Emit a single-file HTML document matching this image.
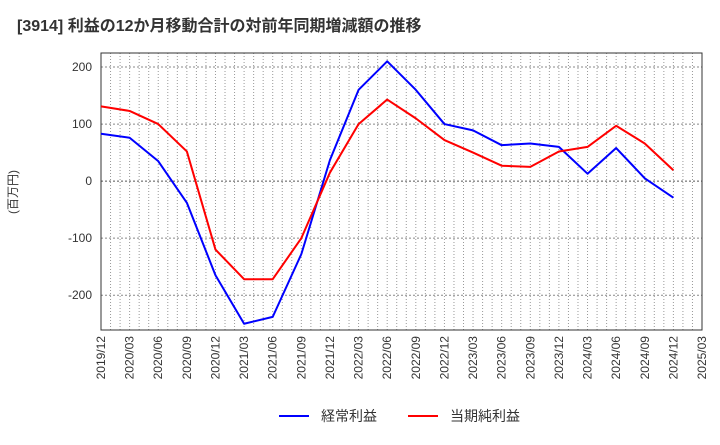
<!DOCTYPE html>
<html><head><meta charset="utf-8"><style>
body{margin:0;background:#fff;font-family:"Liberation Sans","Noto Sans CJK JP",sans-serif;}
svg text{font-family:"Liberation Sans","Noto Sans CJK JP",sans-serif;}
</style></head><body>
<svg id="chart" width="720" height="440" xmlns="http://www.w3.org/2000/svg">
<text x="17" y="31" font-size="16" font-weight="bold" fill="#333">[3914]  利益の12か月移動合計の対前年同期増減額の推移</text>
<text transform="translate(17,192) rotate(-90)" text-anchor="middle" font-size="12" fill="#333">(百万円)</text>
<g id="grid"></g>
<g id="axes"></g>
<g id="series"></g>
<g>
<line x1="279" y1="416" x2="309" y2="416" stroke="#0000ff" stroke-width="2"/>
<text x="321" y="421" font-size="14" fill="#333">経常利益</text>
<line x1="408" y1="416" x2="438" y2="416" stroke="#ff0000" stroke-width="2"/>
<text x="450" y="421" font-size="14" fill="#333">当期純利益</text>
</g>
</svg>
<script>
const categories=["2019/12","2020/03","2020/06","2020/09","2020/12","2021/03","2021/06","2021/09","2021/12","2022/03","2022/06","2022/09","2022/12","2023/03","2023/06","2023/09","2023/12","2024/03","2024/06","2024/09","2024/12","2025/03"];
const ordinaryProfit=[83,76,35,-38,-165,-250,-238,-128,37,160,210,160,100,89,63,66,60,13,58,5,-29];
const netProfit=[131,123,100,52,-120,-172,-172,-100,15,100,143,110,72,50,27,25,52,60,97,66,19];
const yTicks=[200,100,0,-100,-200];
const L=101,R=702,T=53,B=330,yMax=224.6,yMin=-261;
const NS="http://www.w3.org/2000/svg";
const xs=i=>L+(R-L)*i/(categories.length-1);
const ys=v=>T+(yMax-v)/(yMax-yMin)*(B-T);
function mk(tag,attrs,parent){const e=document.createElementNS(NS,tag);for(const k in attrs)e.setAttribute(k,attrs[k]);parent.appendChild(e);return e;}
const grid=document.getElementById('grid'),axes=document.getElementById('axes'),series=document.getElementById('series');
const nMonths=(categories.length-1)*3;
for(let m=1;m<nMonths;m++){const x=L+(R-L)*m/nMonths;
const l=mk('line',{x1:x,y1:T,x2:x,y2:B,stroke:'#999','stroke-width':1,'stroke-dasharray':'1,2'},grid);

}
yTicks.forEach(v=>{const y=ys(v);
const l=mk('line',{x1:L,y1:y,x2:R,y2:y,stroke:v===0?'#555':'#888','stroke-width':1,'stroke-dasharray':'2,2'},grid);


const t=mk('text',{x:L-9,y:y+4,'text-anchor':'end','font-size':12,fill:'#333'},axes);t.textContent=v;

});
const fr=mk('rect',{x:L,y:T,width:R-L,height:B-T,fill:'none',stroke:'#333','stroke-width':1},axes);


categories.forEach((c,i)=>{const x=xs(i);
const t=mk('text',{transform:`translate(${x+4},${B+6}) rotate(-90)`,'text-anchor':'end','font-size':12,fill:'#333'},axes);t.textContent=c;

});
function line(data,color,name){const p=mk('polyline',{points:data.map((v,i)=>xs(i)+','+ys(v)).join(' '),fill:'none',stroke:color,'stroke-width':2,'stroke-linejoin':'round'},series);

}
line(ordinaryProfit,'#0000ff','line-ordinary-profit');
line(netProfit,'#ff0000','line-net-profit');
</script>
</body></html>
